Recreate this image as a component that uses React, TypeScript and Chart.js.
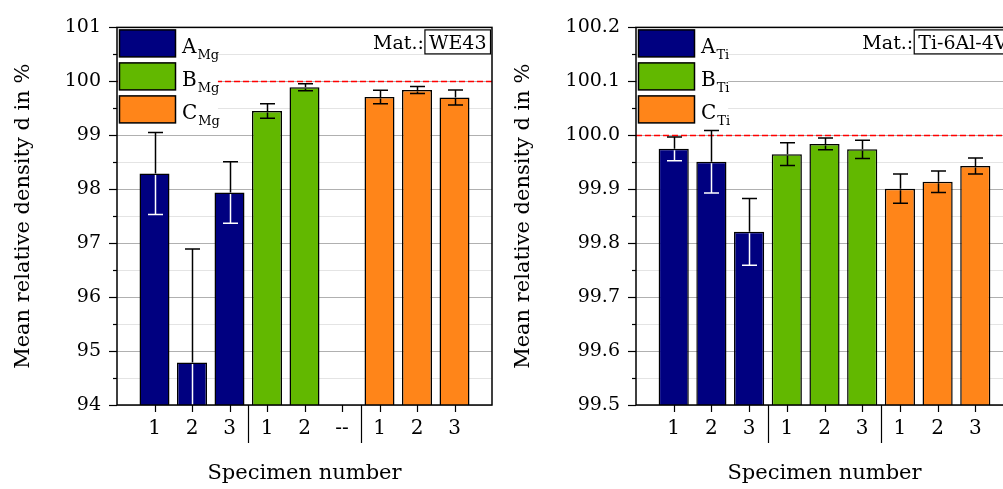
import React, { useEffect, useRef } from 'react';
import { Chart, registerables } from 'chart.js';

Chart.register(...registerables);

const FONT = "'DejaVu Serif', 'Liberation Serif', serif";

// ---------- shared ----------
const SERIES_NAMES = ['A', 'B', 'C'];
const SERIES_COLORS = ['#000080', '#62b800', '#ff8519'];
const INSIDE_ERR_COLORS = ['#ffffff', '#000000', '#000000'];
const GROUP_SEPARATORS = [3.5, 6.5];
const Y_TITLE = 'Mean relative density d in %';
const X_TITLE = 'Specimen number';
const REFERENCE_DENSITY = 100;

// ---------- WE43 (Mg) ----------
const MG_TICK_LABELS = ['1', '2', '3', '1', '2', '--', '1', '2', '3'];
const MG_A_POS = [1, 2, 3];
const MG_A_MEAN = [98.29, 94.79, 97.94];
const MG_A_ERR = [0.76, 2.1, 0.57];
const MG_B_POS = [4, 5];
const MG_B_MEAN = [99.45, 99.89];
const MG_B_ERR = [0.135, 0.065];
const MG_C_POS = [7, 8, 9];
const MG_C_MEAN = [99.71, 99.84, 99.7];
const MG_C_ERR = [0.125, 0.065, 0.14];

// ---------- Ti-6Al-4V ----------
const TI_TICK_LABELS = ['1', '2', '3', '1', '2', '3', '1', '2', '3'];
const TI_A_POS = [1, 2, 3];
const TI_A_MEAN = [99.975, 99.951, 99.821];
const TI_A_ERR = [0.022, 0.058, 0.062];
const TI_B_POS = [4, 5, 6];
const TI_B_MEAN = [99.965, 99.984, 99.974];
const TI_B_ERR = [0.021, 0.011, 0.017];
const TI_C_POS = [7, 8, 9];
const TI_C_MEAN = [99.901, 99.914, 99.943];
const TI_C_ERR = [0.027, 0.02, 0.015];

type Series = { pos: number[]; mean: number[]; err: number[] };

type PanelCfg = {
  width: number;
  yAxisWidth: number;
  padRight: number;
  labels: string[];
  series: Series[];
  sub: string;
  material: string;
  yMin: number;
  yMax: number;
  yStep: number;
  yMajor: number;
  decimals: number;
};

const isMajor = (v: number, major: number) => Math.abs(v / major - Math.round(v / major)) < 1e-6;

function makePlugin(cfg: PanelCfg) {
  return {
    id: 'decor',
    beforeDatasetsDraw(chart: any) {
      const { ctx, chartArea: a, scales } = chart;
      const y = scales.y;
      ctx.save();
      ctx.strokeStyle = '#ff0000';
      ctx.lineWidth = 1.5;
      ctx.setLineDash([6, 3]);
      const yr = Math.round(y.getPixelForValue(REFERENCE_DENSITY)) + 0.5;
      ctx.beginPath();
      ctx.moveTo(a.left, yr);
      ctx.lineTo(a.right, yr);
      ctx.stroke();
      ctx.restore();
      ctx.save();
      let maxW = 0;
      SERIES_NAMES.forEach((n) => {
        ctx.font = `20px ${FONT}`;
        const w1 = ctx.measureText(n).width;
        ctx.font = `13px ${FONT}`;
        const w2 = ctx.measureText(cfg.sub).width;
        maxW = Math.max(maxW, w1 + 1 + w2);
      });
      const tx = a.left + 65;
      ctx.fillStyle = '#ffffff';
      ctx.fillRect(a.left + 1, a.top + 1, tx + maxW - 3 - a.left, 97);
      ctx.restore();
    },
    afterDatasetsDraw(chart: any) {
      const { ctx, chartArea: a, scales } = chart;
      const x = scales.x;
      const y = scales.y;
      ctx.save();
      ctx.beginPath();
      ctx.rect(a.left, a.top, a.right - a.left, a.bottom - a.top);
      ctx.clip();
      ctx.lineWidth = 1.5;
      cfg.series.forEach((s, si) => {
        s.pos.forEach((p, i) => {
          const px = Math.round(x.getPixelForValue(p)) + 0.5;
          const yv = y.getPixelForValue(s.mean[i]);
          const yt = y.getPixelForValue(s.mean[i] + s.err[i]);
          const yb = y.getPixelForValue(s.mean[i] - s.err[i]);
          const half = 7.5;
          ctx.strokeStyle = '#000000';
          ctx.beginPath();
          ctx.moveTo(px, yv);
          ctx.lineTo(px, yt);
          ctx.moveTo(px - half, yt);
          ctx.lineTo(px + half, yt);
          ctx.stroke();
          ctx.strokeStyle = INSIDE_ERR_COLORS[si];
          ctx.beginPath();
          ctx.moveTo(px, yv + 1.5);
          ctx.lineTo(px, yb);
          ctx.moveTo(px - half, yb);
          ctx.lineTo(px + half, yb);
          ctx.stroke();
        });
      });
      ctx.restore();
    },
    afterDraw(chart: any) {
      const { ctx, chartArea: a, scales } = chart;
      const x = scales.x;
      const y = scales.y;
      ctx.save();
      ctx.strokeStyle = '#000000';
      ctx.lineWidth = 1.2;
      y.ticks.forEach((t: any) => {
        const py = Math.round(y.getPixelForValue(t.value)) + 0.5;
        const len = isMajor(t.value, cfg.yMajor) ? 8 : 4;
        ctx.beginPath();
        ctx.moveTo(a.left - len, py);
        ctx.lineTo(a.left, py);
        ctx.stroke();
      });
      x.ticks.forEach((t: any) => {
        const px = Math.round(x.getPixelForValue(t.value)) + 0.5;
        ctx.beginPath();
        ctx.moveTo(px, a.bottom);
        ctx.lineTo(px, a.bottom + 7);
        ctx.stroke();
      });
      GROUP_SEPARATORS.forEach((v) => {
        const px = Math.round(x.getPixelForValue(v)) + 0.5;
        ctx.beginPath();
        ctx.moveTo(px, a.bottom);
        ctx.lineTo(px, a.bottom + 38);
        ctx.stroke();
      });
      ctx.lineWidth = 1.5;
      ctx.strokeRect(a.left, a.top, a.right - a.left, a.bottom - a.top);
      const tx = a.left + 65;
      SERIES_NAMES.forEach((n, k) => {
        const by = a.top + 2.5 + k * 33;
        ctx.fillStyle = SERIES_COLORS[k];
        ctx.fillRect(a.left + 2.5, by, 56, 27);
        ctx.lineWidth = 1.5;
        ctx.strokeStyle = '#000000';
        ctx.strokeRect(a.left + 2.5, by, 56, 27);
        ctx.fillStyle = '#000000';
        ctx.textBaseline = 'alphabetic';
        ctx.textAlign = 'left';
        ctx.font = `20px ${FONT}`;
        ctx.fillText(n, tx, by + 23.5);
        const w = ctx.measureText(n).width;
        ctx.font = `13px ${FONT}`;
        ctx.fillText(cfg.sub, tx + w + 1, by + 29);
      });
      ctx.font = `19px ${FONT}`;
      const mw = ctx.measureText(cfg.material).width;
      const boxR = a.right - 1.5;
      const boxL = boxR - mw - 8;
      const boxT = a.top + 2.5;
      const boxH = 24;
      ctx.fillStyle = '#ffffff';
      ctx.fillRect(boxL, boxT, boxR - boxL, boxH);
      ctx.lineWidth = 1.2;
      ctx.strokeStyle = '#000000';
      ctx.strokeRect(boxL, boxT, boxR - boxL, boxH);
      ctx.fillStyle = '#000000';
      ctx.textAlign = 'left';
      ctx.fillText(cfg.material, boxL + 4, boxT + 19);
      ctx.textAlign = 'right';
      ctx.fillText('Mat.:', boxL - 1, boxT + 19);
      ctx.restore();
    },
  };
}

function Panel({ cfg }: { cfg: PanelCfg }) {
  const ref = useRef<HTMLCanvasElement | null>(null);
  useEffect(() => {
    if (!ref.current) return;
    const datasets = cfg.series.map((s, si) => ({
      label: SERIES_NAMES[si] + cfg.sub,
      data: s.pos.map((p, i) => ({ x: p, y: s.mean[i] })),
      backgroundColor: SERIES_COLORS[si],
      borderColor: '#000000',
      borderWidth: 1.5,
      grouped: false,
      barPercentage: 0.8,
      categoryPercentage: 1,
    }));
    const chart = new Chart(ref.current, {
      type: 'bar',
      data: { datasets },
      plugins: [makePlugin(cfg)],
      options: {
        responsive: false,
        animation: false,
        events: [],
        layout: { padding: { top: 26, right: cfg.padRight, bottom: 0, left: 0 } },
        plugins: { legend: { display: false }, tooltip: { enabled: false } },
        scales: {
          x: {
            type: 'linear',
            min: 0,
            max: 10,
            offset: false,
            afterBuildTicks: (sc: any) => {
              sc.ticks = cfg.labels.map((_, i) => ({ value: i + 1 }));
            },
            afterFit: (sc: any) => {
              sc.height = 84;
            },
            grid: { display: false, drawTicks: false, offset: false },
            border: { display: false },
            ticks: {
              autoSkip: false,
              maxRotation: 0,
              padding: 12,
              color: '#000000',
              font: { family: FONT, size: 20 },
              callback: (v: any) => cfg.labels[Math.round(Number(v)) - 1] ?? '',
            },
            title: {
              display: true,
              text: X_TITLE,
              color: '#000000',
              font: { family: FONT, size: 21 },
              padding: { top: 0, bottom: 3 },
            },
          },
          y: {
            type: 'linear',
            min: cfg.yMin,
            max: cfg.yMax,
            afterBuildTicks: (sc: any) => {
              const n = Math.round((cfg.yMax - cfg.yMin) / cfg.yStep);
              const t = [];
              for (let k = 0; k <= n; k++) t.push({ value: +(cfg.yMin + k * cfg.yStep).toFixed(4) });
              sc.ticks = t;
            },
            afterFit: (sc: any) => {
              sc.width = cfg.yAxisWidth;
            },
            grid: {
              drawTicks: false,
              lineWidth: 1,
              color: (c: any) => (isMajor(c.tick.value, cfg.yMajor) ? '#b0b0b0' : '#e4e4e4'),
            },
            border: { display: false },
            ticks: {
              autoSkip: false,
              padding: 16,
              color: '#000000',
              font: { family: FONT, size: 19 },
              callback: (v: any) => (isMajor(Number(v), cfg.yMajor) ? Number(v).toFixed(cfg.decimals) : ''),
            },
            title: {
              display: true,
              text: Y_TITLE,
              color: '#000000',
              font: { family: FONT, size: 21 },
              padding: { top: 11, bottom: 0 },
            },
          },
        },
      } as any,
    });
    return () => chart.destroy();
  }, [cfg]);
  return <canvas ref={ref} width={cfg.width} height={489} style={{ display: 'block' }} />;
}

const MG_CFG: PanelCfg = {
  width: 500,
  yAxisWidth: 117,
  padRight: 8,
  labels: MG_TICK_LABELS,
  series: [
    { pos: MG_A_POS, mean: MG_A_MEAN, err: MG_A_ERR },
    { pos: MG_B_POS, mean: MG_B_MEAN, err: MG_B_ERR },
    { pos: MG_C_POS, mean: MG_C_MEAN, err: MG_C_ERR },
  ],
  sub: 'Mg',
  material: 'WE43',
  yMin: 94,
  yMax: 101,
  yStep: 0.5,
  yMajor: 1,
  decimals: 0,
};

const TI_CFG: PanelCfg = {
  width: 530,
  yAxisWidth: 136,
  padRight: 17,
  labels: TI_TICK_LABELS,
  series: [
    { pos: TI_A_POS, mean: TI_A_MEAN, err: TI_A_ERR },
    { pos: TI_B_POS, mean: TI_B_MEAN, err: TI_B_ERR },
    { pos: TI_C_POS, mean: TI_C_MEAN, err: TI_C_ERR },
  ],
  sub: 'Ti',
  material: 'Ti-6Al-4V',
  yMin: 99.5,
  yMax: 100.2,
  yStep: 0.05,
  yMajor: 0.1,
  decimals: 1,
};

export default function App() {
  return (
    <div
      style={{
        position: 'absolute',
        left: 0,
        top: 0,
        width: 1003,
        height: 489,
        overflow: 'hidden',
        background: '#ffffff',
      }}
    >
      <div style={{ position: 'absolute', left: 0, top: 0, width: 500, height: 489 }}>
        <Panel cfg={MG_CFG} />
      </div>
      <div style={{ position: 'absolute', left: 500, top: 0, width: 530, height: 489 }}>
        <Panel cfg={TI_CFG} />
      </div>
    </div>
  );
}
